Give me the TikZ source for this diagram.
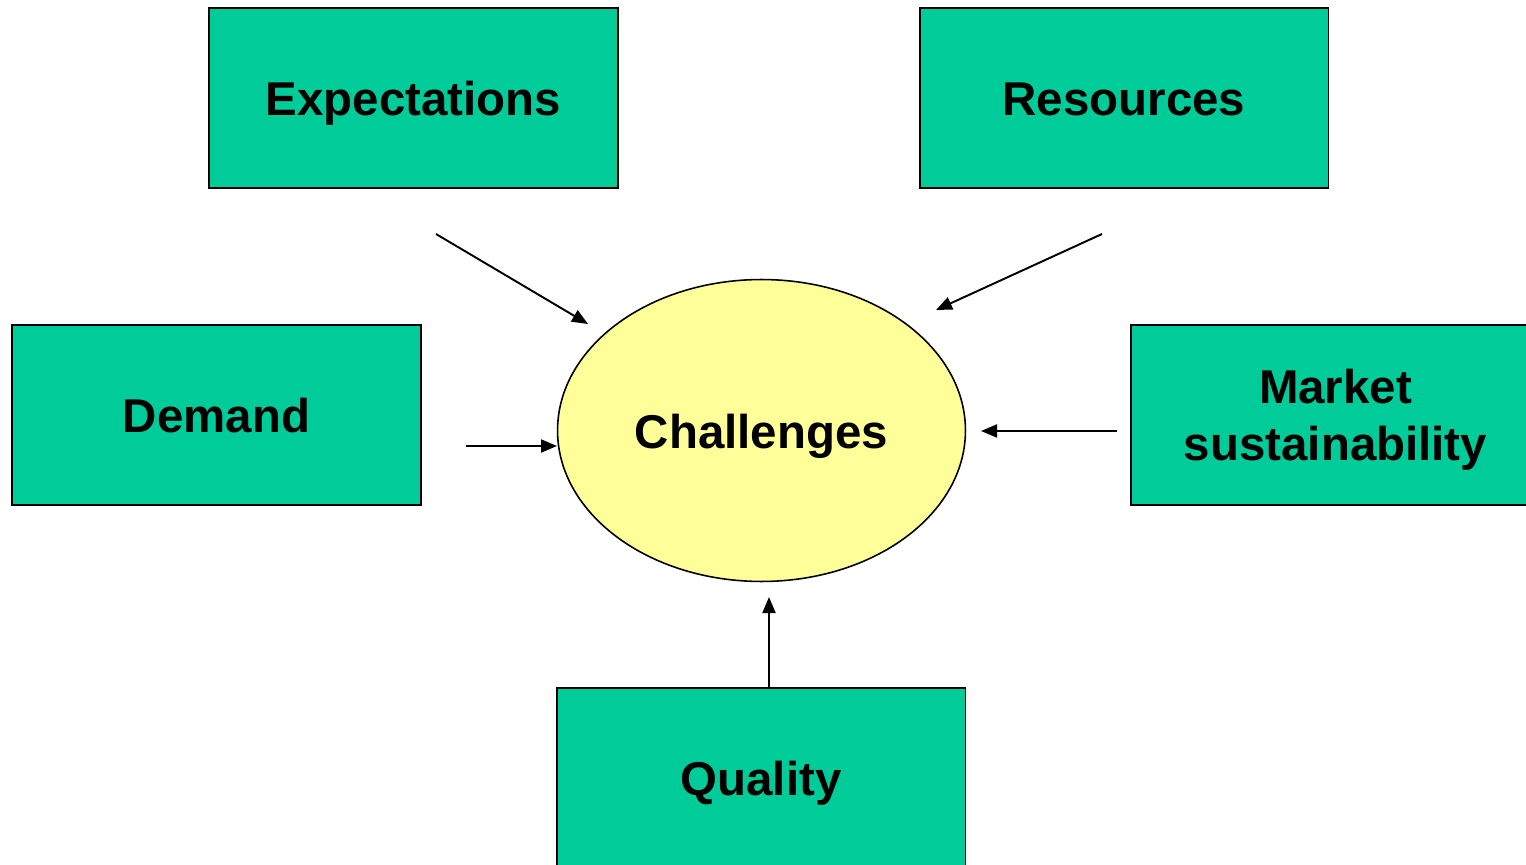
\documentclass[tikz,border=0pt]{standalone}
\usepackage{fontspec}
\setmainfont{Liberation Sans}
\usetikzlibrary{shapes.geometric,arrows.meta}
\definecolor{boxgreen}{RGB}{0,204,153}
\definecolor{ellyellow}{RGB}{255,255,153}
\begin{document}
\begin{tikzpicture}[x=0.02cm,y=-0.02cm,
  factor/.style={draw=black,line width=1.1pt,fill=boxgreen,rectangle,minimum width=8.18cm,minimum height=3.6cm,inner sep=0pt,align=center,font=\fontsize{27}{32.5}\selectfont\bfseries,text height=20pt,text depth=0pt},
  twoline/.style={text height=52pt,text depth=0pt},
  hub/.style={draw=black,line width=0.9pt,fill=ellyellow,ellipse,minimum width=8.16cm,minimum height=6.04cm,inner sep=0pt,font=\fontsize{27}{32.5}\selectfont\bfseries,text height=20pt,text depth=0pt},
  arr/.style={draw=black,line width=1.1pt,-{Triangle[length=0.32cm,width=0.26cm]}}]
\useasboundingbox (0,0) rectangle (1526,865);
\clip (0,0) rectangle (1526,865);
\fill[white] (0,0) rectangle (1526,865);
\node[factor] (exp) at (413.5,98) {Expectations};
\node[factor] (res) at (1124,98) {Resources};
\node[factor] (dem) at (216.5,415) {Demand};
\node[factor,twoline] (mkt) at (1335.5,415) {Market\\sustainability};
\node[factor] (qua) at (761,778) {Quality};
\node[hub] (ch) at (761.5,430.5) {Challenges};
\coordinate (e1) at (436,234); \coordinate (e2) at (588,324);
\coordinate (r1) at (1102,234); \coordinate (r2) at (936,310);
\coordinate (d1) at (466,446); \coordinate (d2) at (557,446);
\coordinate (m1) at (1117,431); \coordinate (m2) at (981,431);
\coordinate (q2) at (769,597);
\draw[arr] (e1) -- (e2);
\draw[arr] (r1) -- (r2);
\draw[arr] (d1) -- (d2);
\draw[arr] (m1) -- (m2);
\draw[arr] (qua.north -| q2) -- (q2);
\end{tikzpicture}
\end{document}
